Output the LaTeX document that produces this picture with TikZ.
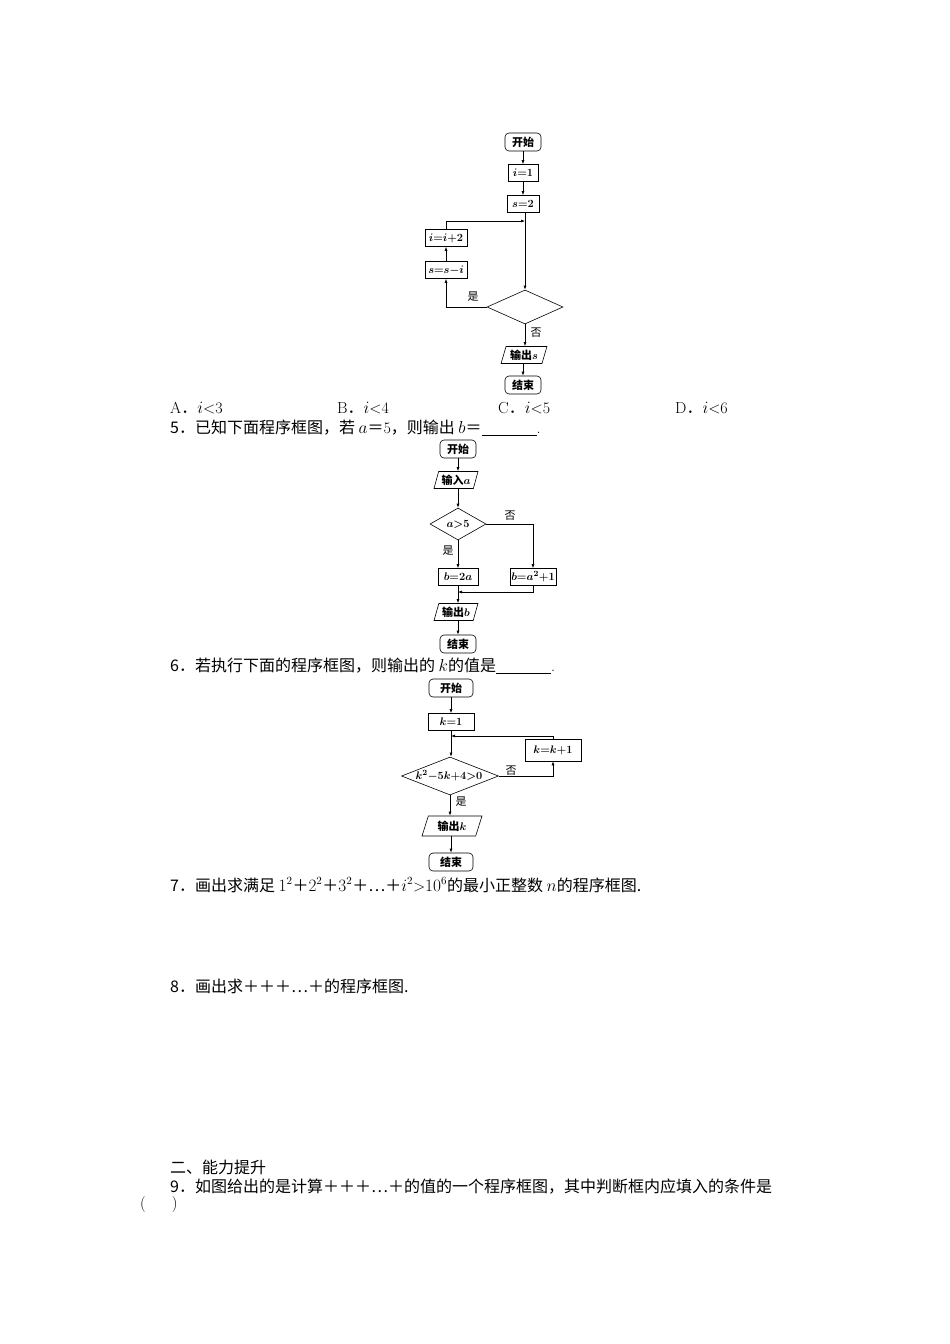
\documentclass[tikz,border=0pt]{standalone}
\usepackage{fontspec}
\newfontfamily\cjk{Noto Sans CJK SC}
\usetikzlibrary{shapes.geometric,arrows.meta}
\begin{document}
\begin{tikzpicture}[x=1pt,y=-1pt,
  every node/.style={inner sep=0pt},
  base/.style={draw,line width=0.6pt,font=\fontsize{11}{13}\selectfont\bfseries\boldmath},
  term/.style={base,rounded corners=4pt,minimum width=36pt,minimum height=18pt},
  proc/.style={base,minimum height=17pt},
  io/.style={base,trapezium,trapezium left angle=70,trapezium right angle=110,minimum height=17pt,trapezium stretches=true},
  lbl/.style={font=\cjk\fontsize{11}{13}\selectfont},
  txt/.style={anchor=west,font=\fontsize{16}{18}\selectfont},
  ar/.style={-{Latex[length=4pt,width=3pt]},line width=0.6pt}]
\useasboundingbox (0,0) rectangle (950,1344);
% ---- flowchart 1
\node[term] (a1) at (523,142) {\cjk 开始};
\node[proc,minimum width=30pt] (a2) at (523,173) {$i$=1};
\node[proc,minimum width=32pt] (a3) at (523,204) {$s$=2};
\node[proc,minimum width=42pt] (a4) at (446,238) {$i$=$i$+2};
\node[proc,minimum width=42pt] (a5) at (446,270) {$s$=$s$$-$$i$};
\node[base,diamond,minimum width=76pt,minimum height=34pt] (a6) at (525,307) {};
\node[io,minimum width=46pt] (a7) at (524,355) {{\cjk 输出}$s$};
\node[term] (a8) at (523,385) {\cjk 结束};
\coordinate (j1) at (525,221);
\draw[ar] (a1) -- (a2);
\draw[ar] (a2) -- (a3);
\draw[ar] (a3.south -| j1) -- (a6.north);
\draw[ar] (a4.north) |- (j1);
\draw[ar] (a5) -- (a4);
\draw[ar] (a6.west) -| (a5.south);
\draw[ar] (a6.south) -- (a7.north -| a6.south);
\draw[ar] (a7.south -| a8.north) -- (a8);
\node[lbl] at (473,297) {是};
\node[lbl] at (536,333) {否};
\node[txt] at (170,408) {A{\cjk ．}$i$<3};
\node[txt] at (337,408) {B{\cjk ．}$i$<4};
\node[txt] at (498,408) {C{\cjk ．}$i$<5};
\node[txt] at (675,408) {D{\cjk ．}$i$<6};
\node[txt] at (170,428) {{\cjk 5．已知下面程序框图，若 }$a${\cjk ＝}5{\cjk ，则输出 }$b${\cjk ＝}\underline{\hspace{55pt}}.};
% ---- flowchart 2
\node[term] (b1) at (458,449) {\cjk 开始};
\node[io,minimum width=44pt] (b2) at (456,480) {{\cjk 输入}$a$};
\node[base,diamond,minimum width=56pt,minimum height=32pt] (b3) at (458,524) {};
\node[font=\fontsize{11}{13}\selectfont\bfseries\boldmath] at (458,524) {$a$>5};
\node[proc,minimum width=40pt] (b4) at (458,577) {$b$=2$a$};
\node[proc,minimum width=46pt] (b5) at (533,577) {$b$=$a^2$+1};
\node[io,minimum width=44pt] (b6) at (456,612) {{\cjk 输出}$b$};
\node[term] (b7) at (458,644) {\cjk 结束};
\coordinate (j2) at (458,592);
\draw[ar] (b1) -- (b2.north -| b1);
\draw[ar] (b2.south -| b1) -- (b3.north);
\draw[ar] (b3.south) -- (b4.north);
\draw[ar] (b3.east) -| (b5.north);
\draw[ar] (b5.south) |- (j2);
\draw[ar] (b4.south) -- (b6.north -| b4);
\draw[ar] (b6.south -| b7) -- (b7);
\node[lbl] at (510,516) {否};
\node[lbl] at (448,551) {是};
\node[txt] at (170,666) {{\cjk 6．若执行下面的程序框图，则输出的 }$k${\cjk 的值是}\underline{\hspace{55pt}}.};
% ---- flowchart 3
\node[term,minimum width=44pt] (c1) at (451,688) {\cjk 开始};
\node[proc,minimum width=46pt] (c2) at (451,722) {$k$=1};
\node[base,diamond,minimum width=97pt,minimum height=38pt] (c3) at (450,776) {};
\node[font=\fontsize{11}{13}\selectfont\bfseries\boldmath] at (449,776) {$k^2$$-$5$k$+4>0};
\node[proc,minimum width=56pt,minimum height=22pt] (c4) at (553,750) {$k$=$k$+1};
\node[io,minimum width=60pt,minimum height=20pt] (c5) at (452,826) {{\cjk 输出}$k$};
\node[term,minimum width=44pt] (c6) at (451,862) {\cjk 结束};
\coordinate (j3) at (451,736);
\draw[ar] (c1) -- (c2);
\draw[ar] (c2.south) -- (c3.north -| c2);
\draw[ar] (c4.north) |- (j3);
\draw[ar] (c3.east) -| (c4.south);
\draw[ar] (c3.south) -- (c5.north -| c3.south);
\draw[ar] (c5.south -| c6) -- (c6);
\node[lbl] at (511,771) {否};
\node[lbl] at (461,802) {是};
\node[txt] at (170,885) {{\cjk 7．画出求满足 }$1^2${\cjk ＋}$2^2${\cjk ＋}$3^2${\cjk ＋…＋}$i^2$>$10^6${\cjk 的最小正整数 }$n${\cjk 的程序框图.}};
\node[txt] at (170,986) {\cjk 8．画出求＋＋＋…＋的程序框图.};
\node[txt] at (170,1167) {\cjk 二、能力提升};
\node[txt] at (170,1187) {\cjk 9．如图给出的是计算＋＋＋…＋的值的一个程序框图，其中判断框内应填入的条件是};
\node[txt] at (140,1204) {(\hspace{26pt})};
\end{tikzpicture}
\end{document}
